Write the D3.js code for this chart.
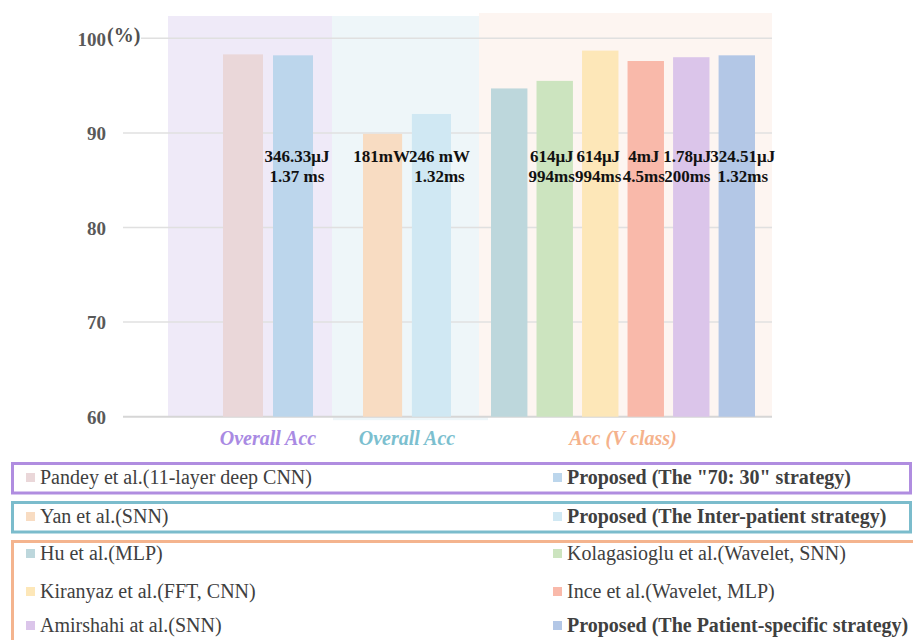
<!DOCTYPE html>
<html>
<head>
<meta charset="utf-8">
<script src="https://cdn.jsdelivr.net/npm/d3@7"></script>
<style>
  html, body { margin: 0; padding: 0; background: #ffffff; }
  svg { display: block; }
</style>
</head>
<body>
<svg id="chart" width="913" height="640"></svg>
<script>
// ---- data ----
const groupTitles = ["Overall Acc", "Overall Acc", "Acc (V class)"];
const methods = [
  "Pandey et al.(11-layer deep CNN)",
  "Proposed (The \"70: 30\" strategy)",
  "Yan et al.(SNN)",
  "Proposed (The Inter-patient strategy)",
  "Hu et al.(MLP)",
  "Kolagasioglu et al.(Wavelet, SNN)",
  "Kiranyaz et al.(FFT, CNN)",
  "Ince et al.(Wavelet, MLP)",
  "Amirshahi at al.(SNN)",
  "Proposed (The Patient-specific strategy)"
];
const methodGroup = [0, 0, 1, 1, 2, 2, 2, 2, 2, 2];
const accuracy = [98.3, 98.2, 89.9, 92.0, 94.7, 95.5, 98.7, 97.6, 98.0, 98.2];
const energyText = ["", "346.33μJ", "181mW", "246 mW", "", "614μJ", "614μJ", "4mJ", "1.78μJ", "324.51μJ"];
const latencyText = ["", "1.37 ms", "", "1.32ms", "", "994ms", "994ms", "4.5ms", "200ms", "1.32ms"];
const isProposed = [false, true, false, true, false, false, false, false, false, true];
const yTicks = [60, 70, 80, 90, 100];

// ---- styling ----
const barColors = ["#ead7d9", "#bcd6ec", "#f8dcc2", "#d0e8f3", "#bdd7dc",
                   "#cce4bf", "#fde7b8", "#f9b9aa", "#dbc5ea", "#b3c7e6"];
const panelFill = ["#efeaf8", "#eef6f9", "#fdf5f1"];
const groupColor = ["#a98ae3", "#7cbfcf", "#f5b28c"];
const legendStroke = ["#b08de0", "#7bbccc", "#f4b48e"];
// panel extents and the span the bars occupy inside each panel
const panelLayout = [
  { x0: 168, x1: 332, top: 16, bars: [223, 313] },
  { x0: 332, x1: 480, top: 16, bars: [363, 451] },
  { x0: 479, x1: 772, top: 13, bars: [491, 755] }
];
const labelShift = [0, 4, -1, 8, 0, -3, -2, -2, -4, 6];

const svg = d3.select("#chart");
const serif = "'Liberation Serif', 'Times New Roman', serif";

const y = d3.scaleLinear().domain([60, 100]).range([416.7, 38.3]);
const gridX0 = 123, gridX1 = 772;

// one band scale per comparison group
const xScales = panelLayout.map((p, g) =>
  d3.scaleBand()
    .domain(methods.filter((m, i) => methodGroup[i] === g))
    .range(p.bars)
    .paddingInner(0.2)
    .paddingOuter(0)
);
const barX = i => xScales[methodGroup[i]](methods[i]);
const barW = i => xScales[methodGroup[i]].bandwidth();

// background panels
svg.append("g").selectAll("rect")
  .data(panelLayout)
  .join("rect")
  .attr("x", d => d.x0)
  .attr("y", d => d.top)
  .attr("width", d => d.x1 - d.x0)
  .attr("height", d => y(60) - d.top)
  .attr("fill", (d, g) => panelFill[g]);
// faint shadow strip below the middle panel
svg.append("rect")
  .attr("x", 333).attr("y", y(60)).attr("width", 155).attr("height", 3.5)
  .attr("fill", "#eef6f9");

// gridlines
const grid = svg.append("g");
grid.selectAll("line")
  .data(yTicks)
  .join("line")
  .attr("x1", d => d === 100 ? 141 : gridX0)
  .attr("x2", gridX1)
  .attr("y1", d => y(d))
  .attr("y2", d => y(d))
  .attr("stroke", d => d === 60 ? "#d6d6d6" : "#e0e0e0")
  .attr("stroke-width", d => d === 60 ? 2 : 1.5);

// y axis labels
const yAxis = d3.axisLeft(y).tickValues(yTicks).tickSize(0).tickPadding(0);
const axisG = svg.append("g").attr("transform", "translate(106,0)").call(yAxis);
axisG.select(".domain").remove();
axisG.selectAll("text")
  .attr("font-family", serif)
  .attr("font-size", 19)
  .attr("font-weight", "bold")
  .attr("fill", "#595959")
  .attr("dy", "0.36em");
svg.append("text")
  .attr("x", 107).attr("y", 42)
  .attr("font-family", serif).attr("font-size", 20).attr("font-weight", "bold")
  .attr("fill", "#505050")
  .text("(%)");

// bars
svg.append("g").selectAll("rect")
  .data(accuracy)
  .join("rect")
  .attr("x", (d, i) => barX(i))
  .attr("width", (d, i) => barW(i))
  .attr("y", d => y(d))
  .attr("height", d => y(60) - y(d))
  .attr("fill", (d, i) => barColors[i]);

// energy / latency annotations
const ann = svg.append("g")
  .attr("font-family", serif)
  .attr("font-size", 17)
  .attr("font-weight", "bold")
  .attr("fill", "#111111")
  .attr("text-anchor", "middle");
methods.forEach((m, i) => {
  const cx = barX(i) + barW(i) / 2 + labelShift[i];
  if (energyText[i]) ann.append("text").attr("x", cx).attr("y", 162).text(energyText[i]);
  if (latencyText[i]) ann.append("text").attr("x", cx).attr("y", 182).text(latencyText[i]);
});

// group titles under the axis
svg.append("g").selectAll("text")
  .data(groupTitles)
  .join("text")
  .attr("x", (d, g) => (panelLayout[g].bars[0] + panelLayout[g].bars[1]) / 2)
  .attr("y", 445)
  .attr("text-anchor", "middle")
  .attr("font-family", serif)
  .attr("font-size", 20)
  .attr("font-weight", "bold")
  .attr("font-style", "italic")
  .attr("fill", (d, g) => groupColor[g])
  .text(d => d);

// legend boxes
const boxes = [
  { x: 12.5, y: 463.5, w: 898, h: 29.5 },
  { x: 12.5, y: 502.5, w: 898, h: 29.5 },
  { x: 12.5, y: 541.5, w: 920, h: 120 }
];
svg.append("g").selectAll("rect")
  .data(boxes)
  .join("rect")
  .attr("x", d => d.x).attr("y", d => d.y)
  .attr("width", d => d.w).attr("height", d => d.h)
  .attr("fill", "none")
  .attr("stroke", (d, g) => legendStroke[g])
  .attr("stroke-width", 3);

// legend entries: two columns, one row per pair of methods
const rowBaseline = [484, 523, 560, 598, 632];
const colX = [26, 553];
const leg = svg.append("g");
methods.forEach((m, i) => {
  const row = Math.floor(i / 2), col = i % 2;
  const by = rowBaseline[row];
  leg.append("rect")
    .attr("x", colX[col]).attr("y", by - 11)
    .attr("width", 9).attr("height", 9)
    .attr("fill", barColors[i]);
  leg.append("text")
    .attr("x", colX[col] + 14).attr("y", by)
    .attr("font-family", serif)
    .attr("font-size", 20)
    .attr("font-weight", isProposed[i] ? "bold" : "normal")
    .attr("fill", "#404040")
    .text(m);
});
</script>
</body>
</html>
